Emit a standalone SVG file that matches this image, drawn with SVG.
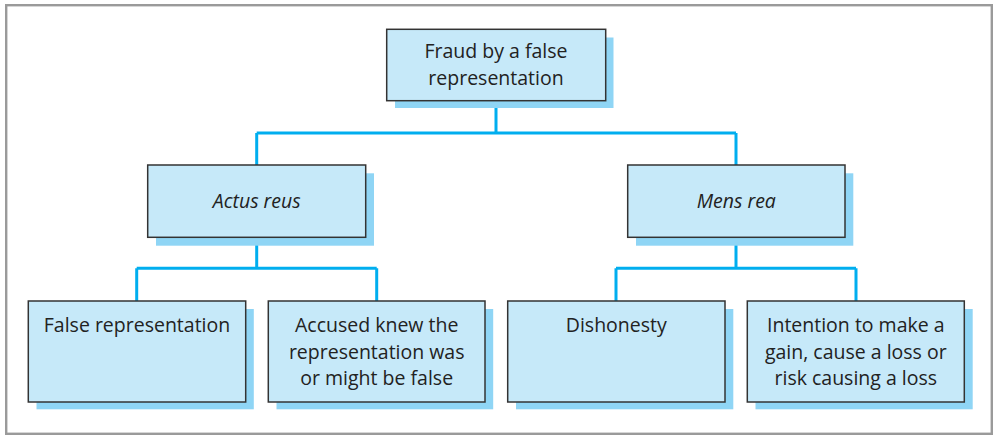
<svg xmlns="http://www.w3.org/2000/svg" width="995" height="435" viewBox="0 0 995 435">
<defs>
<style>
.frame{fill:#fff;stroke:#9a9a9a;stroke-width:2.4}
.sh{fill:#8fd5f5}
.box{fill:#c6e9f9;stroke:#333;stroke-width:1.5}
.t{font-family:"Open Sans","Noto Sans",sans-serif;font-size:19.5px;fill:#222;text-anchor:middle}
.i{font-style:italic}
.c{fill:none;stroke:#00aeef;stroke-width:3}
</style>
</defs>
<rect class="frame" x="6.2" y="5.2" width="985.6" height="428.6"/>
<g id="connectors">
<path class="c" d="M496 101V133M256.7 133H736M256.7 133V165M736 133V165"/>
<path class="c" d="M256.7 237V268.3M136.7 268.3H376.7M136.7 268.3V301M376.7 268.3V301"/>
<path class="c" d="M736 237V268.3M616 268.3H856M616 268.3V301M856 268.3V301"/>
</g>
<g id="root">
<rect class="sh" x="395" y="37.5" width="218.5" height="70.5"/>
<rect class="box" x="386.7" y="29.3" width="219" height="71.4"/>
<text class="t" x="496" y="58.3">Fraud by a false</text>
<text class="t" x="496" y="85">representation</text>
</g>
<g id="actus">
<rect class="sh" x="156" y="173.3" width="218" height="72.4"/>
<rect class="box" x="147.7" y="165" width="218" height="72.3"/>
<text class="t i" x="256.7" y="208.3">Actus reus</text>
</g>
<g id="mens">
<rect class="sh" x="636" y="173.3" width="217.3" height="72.4"/>
<rect class="box" x="627.7" y="165" width="217.3" height="72.3"/>
<text class="t i" x="736.3" y="208.3">Mens rea</text>
</g>
<g id="false-rep">
<rect class="sh" x="36.5" y="309" width="217.3" height="100.3"/>
<rect class="box" x="28.3" y="301" width="217.4" height="101"/>
<text class="t" x="137" y="331.7">False representation</text>
</g>
<g id="accused">
<rect class="sh" x="276.5" y="309" width="216.7" height="100.3"/>
<rect class="box" x="268.3" y="301" width="216.7" height="101"/>
<text class="t" x="376.7" y="331.7">Accused knew the</text>
<text class="t" x="376.7" y="358.5">representation was</text>
<text class="t" x="376.7" y="385">or might be false</text>
</g>
<g id="dishonesty">
<rect class="sh" x="516" y="309" width="217.3" height="100.3"/>
<rect class="box" x="507.7" y="301" width="217.3" height="101"/>
<text class="t" x="616.3" y="331.7">Dishonesty</text>
</g>
<g id="intention">
<rect class="sh" x="755.5" y="309" width="217.2" height="100.3"/>
<rect class="box" x="747.3" y="301" width="217" height="101"/>
<text class="t" x="855.8" y="331.7">Intention to make a</text>
<text class="t" x="855.8" y="358.5">gain, cause a loss or</text>
<text class="t" x="855.8" y="385">risk causing a loss</text>
</g>
</svg>
